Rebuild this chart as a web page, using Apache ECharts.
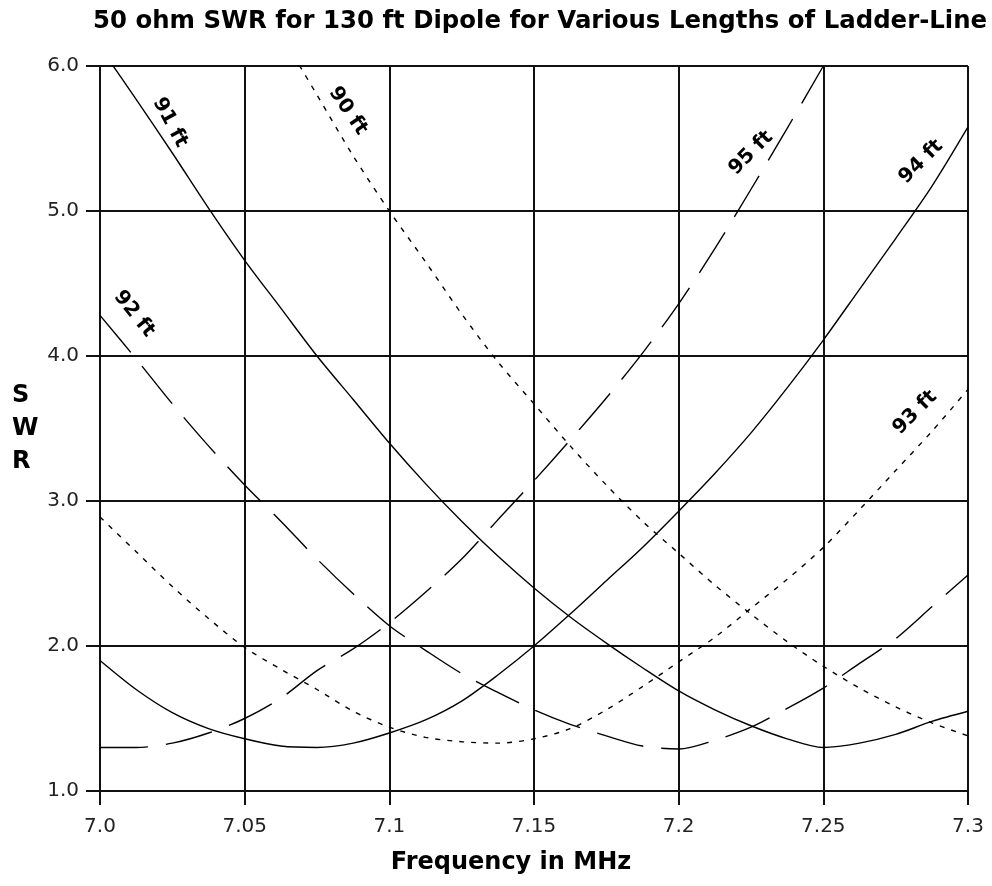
<!DOCTYPE html>
<html>
<head>
<meta charset="utf-8">
<script src="https://cdn.jsdelivr.net/npm/echarts@6/dist/echarts.min.js"></script>
<style>
html,body{margin:0;padding:0;background:#fff;}
#chart{width:992px;height:886px;}
</style>
</head>
<body>
<div id="chart"></div>
<script>
// Frequencies (MHz)
const freq = [7.0, 7.0125, 7.025, 7.0375, 7.05, 7.0625, 7.075, 7.0875, 7.1, 7.1125, 7.125, 7.1375, 7.15,
              7.1625, 7.175, 7.1875, 7.2, 7.2125, 7.225, 7.2375, 7.25, 7.2625, 7.275, 7.2875, 7.3];
// SWR per ladder-line length
const swr90 = [null, null, null, null, null, 6.22, 5.80, 5.38, 5.00, 4.65, 4.29, 3.96, 3.67,
               3.38, 3.11, 2.86, 2.64, 2.42, 2.22, 2.03, 1.86, 1.71, 1.58, 1.47, 1.38];
const swr91 = [6.13, 5.77, 5.40, 5.02, 4.66, 4.33, 4.00, 3.70, 3.40, 3.12, 2.86, 2.62, 2.40,
               2.20, 2.02, 1.85, 1.69, 1.56, 1.45, 1.36, 1.30, 1.33, 1.39, 1.48, 1.55];
const swr92 = [4.28, 3.98, 3.67, 3.38, 3.11, 2.86, 2.60, 2.36, 2.14, 1.97, 1.81, 1.68, 1.56,
               1.46, 1.38, 1.31, 1.29, 1.35, 1.44, 1.57, 1.71, 1.88, 2.05, 2.27, 2.49];
const swr93 = [2.89, 2.65, 2.41, 2.19, 1.99, 1.84, 1.70, 1.55, 1.44, 1.37, 1.34, 1.33, 1.36,
               1.43, 1.56, 1.72, 1.89, 2.06, 2.26, 2.46, 2.68, 2.94, 3.21, 3.48, 3.77];
const swr94 = [1.90, 1.70, 1.54, 1.43, 1.36, 1.31, 1.30, 1.33, 1.40, 1.49, 1.62, 1.80, 2.00,
               2.22, 2.45, 2.68, 2.93, 3.19, 3.47, 3.78, 4.11, 4.46, 4.81, 5.17, 5.58];
const swr95 = [1.30, 1.30, 1.33, 1.40, 1.50, 1.64, 1.83, 1.98, 2.16, 2.37, 2.60, 2.87, 3.14,
               3.42, 3.71, 4.02, 4.36, 4.74, 5.15, 5.57, 6.00, null, null, null, null];
// Tick labels
const xTickLabels = ['7.0', '7.05', '7.1', '7.15', '7.2', '7.25', '7.3'];
const yTickLabels = ['1.0', '2.0', '3.0', '4.0', '5.0', '6.0'];
// Curve labels: name, anchor frequency, anchor SWR, rotation
const curveNames   = ['90 ft', '91 ft', '92 ft', '93 ft', '94 ft', '95 ft'];
const labelFreq    = [7.0857, 7.0242, 7.0118, 7.2817, 7.2838, 7.2250];
const labelSwr     = [5.69, 5.61, 4.29, 3.61, 5.34, 5.40];
const labelRotate  = [-56, -62, -51, 45, 45, 45];

const seriesValues = [swr90, swr91, swr92, swr93, swr94, swr95];
const shortDash = [5, 7];
const longDash = [48, 18];
const styles = [shortDash, 'solid', longDash, shortDash, 'solid', longDash];

const chart = echarts.init(document.getElementById('chart'), null, {renderer: 'canvas'});

const lineSeries = seriesValues.map((vals, i) => ({
  name: curveNames[i],
  type: 'line',
  data: freq.map((f, k) => [f, vals[k]]),
  showSymbol: false,
  smooth: 0.3,
  connectNulls: false,
  clip: true,
  lineStyle: {color: '#000', width: 1.4, type: styles[i]},
  z: 3
}));

const labelSeries = {
  type: 'scatter',
  symbolSize: 1,
  itemStyle: {color: 'rgba(0,0,0,0)'},
  z: 5,
  data: curveNames.map((n, i) => ({
    name: n,
    value: [labelFreq[i], labelSwr[i]],
    label: {rotate: labelRotate[i]}
  })),
  label: {
    show: true,
    position: 'inside',
    formatter: '{b}',
    fontFamily: 'DejaVu Sans',
    fontWeight: 'bold',
    fontSize: 20,
    color: '#000',
    opacity: 1
  }
};

const axisTextStyle = {fontFamily: 'DejaVu Sans', fontSize: 20, color: '#222'};
const gridLine = {color: '#111', width: 2};

chart.setOption({
  animation: false,
  backgroundColor: '#fff',
  title: {
    text: '50 ohm SWR for 130 ft Dipole for Various Lengths of Ladder-Line',
    left: 93,
    top: 10,
    padding: 0,
    textStyle: {fontFamily: 'DejaVu Sans', fontWeight: 'bold', fontSize: 24.4, color: '#000'}
  },
  grid: {left: 100, right: 24, top: 66, bottom: 95, containLabel: false},
  xAxis: {
    type: 'value',
    min: 7.0,
    max: 7.3,
    interval: 0.05,
    name: 'Frequency in MHz',
    nameLocation: 'middle',
    nameGap: 60,
    nameTextStyle: {fontFamily: 'DejaVu Sans', fontWeight: 'bold', fontSize: 24, color: '#000', padding: [0, 46, 0, 0]},
    axisLine: {show: true, lineStyle: gridLine},
    axisTick: {show: true, length: 14, lineStyle: gridLine},
    splitLine: {show: true, lineStyle: gridLine},
    axisLabel: Object.assign({
      margin: 26,
      formatter: v => xTickLabels[Math.round((v - 7.0) / 0.05)]
    }, axisTextStyle)
  },
  yAxis: {
    type: 'value',
    min: 1,
    max: 6,
    interval: 1,
    name: 'S\nW\nR',
    nameLocation: 'middle',
    nameRotate: 0,
    nameGap: 88,
    nameTextStyle: {fontFamily: 'DejaVu Sans', fontWeight: 'bold', fontSize: 24, color: '#000',
                    lineHeight: 33, align: 'left', padding: [46, 0, 0, 0]},
    axisLine: {show: true, lineStyle: gridLine},
    axisTick: {show: true, length: 14, lineStyle: gridLine},
    splitLine: {show: true, lineStyle: gridLine},
    axisLabel: Object.assign({
      margin: 21,
      formatter: v => yTickLabels[Math.round(v - 1)]
    }, axisTextStyle)
  },
  series: lineSeries.concat([labelSeries])
});
</script>
</body>
</html>
